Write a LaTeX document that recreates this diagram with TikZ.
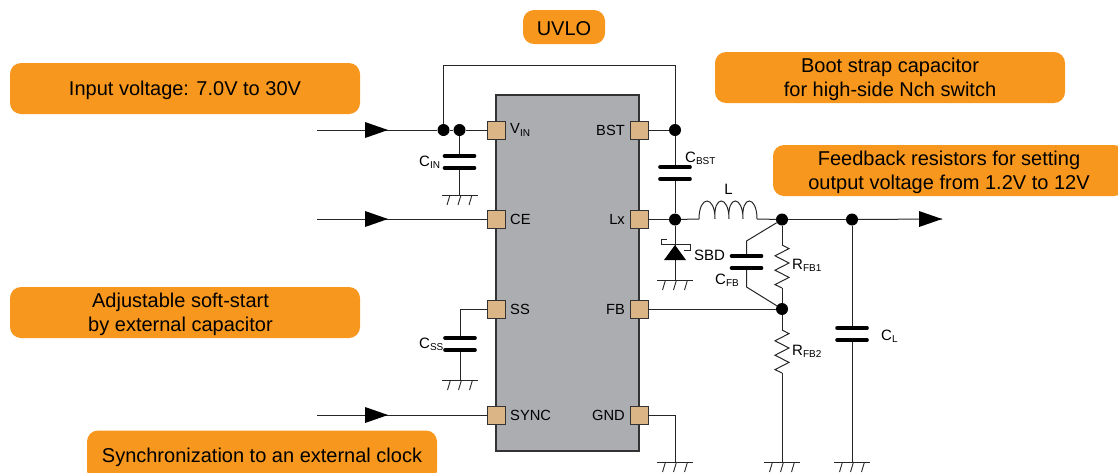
\documentclass[tikz,border=0pt]{standalone}
\usepackage{fontspec}
\setmainfont{Liberation Sans}
\usetikzlibrary{calc}
\definecolor{boxorange}{HTML}{F8971D}
\definecolor{chipgray}{HTML}{ABADB0}
\definecolor{pinfill}{HTML}{DBB585}
\definecolor{wiregray}{HTML}{333333}
\newcommand{\gndsym}[1]{%
  \draw[gndline] ($(#1)+(-18,0)$) -- ($(#1)+(18,0)$);
  \foreach \dx in {-11,0,11}{\draw[gndline] ($(#1)+(\dx+1.5,0)$) -- ($(#1)+(\dx-1.5,10)$);}
}
\newcommand{\plates}[1]{%
  \draw[plate] ($(#1)+(-15,-6)$) -- ($(#1)+(15,-6)$);
  \draw[plate] ($(#1)+(-15,6)$) -- ($(#1)+(15,6)$);
}
\newcommand{\tstrut}{\rule{0pt}{18pt}}
\tikzset{
  x=1pt,y=-1pt,
  callout/.style={fill=boxorange,rounded corners=11pt,minimum width=350pt,minimum height=51pt,align=center,font=\fontsize{20}{24}\selectfont,inner sep=0pt},
  pinbox/.style={draw=wiregray,fill=pinfill,line width=0.9pt,minimum size=18pt,inner sep=0pt},
  dotnode/.style={circle,fill=black,minimum size=12pt,inner sep=0pt},
  wire/.style={draw=black!85,line width=1pt},
  gndline/.style={draw=black!85,line width=0.9pt},
  plate/.style={draw=black,line width=3.6pt,line cap=round},
  pinlabel/.style={font=\fontsize{14.7}{16}\selectfont,inner sep=0pt},
  partlabel/.style={font=\fontsize{15}{16}\selectfont,inner sep=0pt},
  arrowhead/.style={fill=black,draw=none}
}
\newcommand{\sbs}[1]{\textsubscript{\fontsize{10}{11}\selectfont #1}}
\begin{document}
\begin{tikzpicture}
\useasboundingbox (0,0) rectangle (1118,472);
\clip (0,0) rectangle (1118,472);
% callouts
\node[callout,minimum width=82pt,minimum height=34pt] (uvlo) at (564,27) {\tstrut UVLO};
\node[callout] (inbox) at (185,88.5) {\tstrut Input voltage: 7.0V to 30V};
\node[callout] (bootbox) at (890,77.5) {\tstrut Boot strap capacitor\\for high-side Nch switch};
\node[callout,minimum width=352pt] (fbbox) at (949,170.5) {\tstrut Feedback resistors for setting\\output voltage from 1.2V to 12V};
\node[callout] (ssbox) at (185,312.5) {\tstrut Adjustable soft-start\hspace*{9pt}\\by external capacitor\hspace*{9pt}};
\node[callout] (syncbox) at (262,456) {\tstrut Synchronization to an external clock};
% chip
\node[draw=wiregray,fill=chipgray,line width=1.1pt,minimum width=143pt,minimum height=356pt,inner sep=0pt] (chip) at (567.5,273) {};
% coordinates
\coordinate (inL) at (317,130);
\coordinate (ceL) at (317,219);
\coordinate (syL) at (317,415);
\coordinate (outR) at (942,219);
\coordinate (topL) at (443.5,65);
\coordinate (topR) at (675,65);
\coordinate (cinC) at (459.5,162);
\coordinate (cinG) at (459.5,195);
\coordinate (cbstC) at (675,173);
\coordinate (sbdG) at (675,280);
\coordinate (lA) at (699,219);
\coordinate (lB) at (757,219);
\coordinate (cfbC) at (746.5,262);
\coordinate (cfbT) at (746.5,241);
\coordinate (cfbB) at (746.5,287);
\coordinate (r1T) at (782,245);
\coordinate (r1B) at (782,288);
\coordinate (r2T) at (782,330);
\coordinate (r2B) at (782,373);
\coordinate (r2G) at (782,462);
\coordinate (clC) at (852,334);
\coordinate (clG) at (852,462);
\coordinate (gndG) at (675,462);
\coordinate (gndC) at (675,415);
\coordinate (cssC) at (460,344);
\coordinate (cssT) at (460,309);
\coordinate (cssG) at (460,380);
% pins
\node[pinbox] (pvin) at (496,130) {};
\node[pinbox] (pce) at (496,219.5) {};
\node[pinbox] (pss) at (496,309) {};
\node[pinbox] (psync) at (496,415.5) {};
\node[pinbox] (pbst) at (639,130) {};
\node[pinbox] (plx) at (639,219.5) {};
\node[pinbox] (pfb) at (639,309) {};
\node[pinbox] (pgnd) at (639,415.5) {};
% junctions
\node[dotnode] (j1) at (443.5,130) {};
\node[dotnode] (j2) at (459.5,130) {};
\node[dotnode] (j3) at (675,130) {};
\node[dotnode] (j4) at (675,219.5) {};
\node[dotnode] (j5) at (782,219.5) {};
\node[dotnode] (j6) at (852,219.5) {};
\node[dotnode] (j7) at (782,309) {};
% wires
\draw[wire] (inL) -- (j1);
\draw[wire] (j1) -- (j2);
\draw[wire] (j2) -- (pvin);
\draw[wire] (ceL) -- (ceL -| pce.west);
\draw[wire] (syL) -- (syL -| psync.west);
\draw[wire] (j1) -- (topL) -- (topR) -- (j3);
\draw[wire] (pbst) -- (j3);
\draw[wire] (j3) -- (j4);
\draw[wire] (plx) -- (j4);
\draw[wire] (j4) -- (lA);
\draw[wire] (lB) -- (j5);
\draw[wire] (j5) -- (j6);
\draw[wire] (j6) -- (outR);
\draw[wire] (pfb) -- (j7);
\draw[wire] (j5) -- (r1T);
\draw[wire] (r1B) -- (j7);
\draw[wire] (j7) -- (r2T);
\draw[wire] (r2B) -- (r2G);
\draw[wire] (j5) -- (cfbT) -- (cfbC);
\draw[wire] (j7) -- (cfbB) -- (cfbC);
\draw[wire] (j6) -- (clG);
\draw[wire] (pgnd) -| (gndG);
\draw[wire] (pss) -- (cssT) -- (cssG);
\draw[wire] (j2) -- (cinG);
\draw[wire] (j4) -- (sbdG);
% white gaps in capacitors
\foreach \c in {cinC,cbstC,cfbC,clC,cssC}{\fill[white] ($(\c)+(-20,-5)$) rectangle ($(\c)+(20,5)$);}
\plates{cinC}
\plates{cbstC}
\plates{cfbC}
\plates{clC}
\plates{cssC}
% grounds
\gndsym{cinG}
\gndsym{sbdG}
\gndsym{cssG}
\gndsym{gndG}
\gndsym{r2G}
\gndsym{clG}
% arrowheads
\fill[arrowhead] (365,122) -- (388,130) -- (365,138) -- cycle;
\fill[arrowhead] (365,211) -- (388,219) -- (365,227) -- cycle;
\fill[arrowhead] (365,407) -- (388,415) -- (365,423) -- cycle;
\fill[arrowhead] (919,211) -- (942,219) -- (919,227) -- cycle;
% inductor
\draw[wire] (lA) .. controls (699,195) and (715,195) .. (715,219)
  .. controls (713,195) and (729,195) .. (729,219)
  .. controls (727,195) and (743,195) .. (743,219)
  .. controls (741,195) and (757,195) .. (757,219);
% resistors
\draw[wire] (r1T) -- ++(7,3.6) -- ++(-14,7.2) -- ++(14,7.2) -- ++(-14,7.2) -- ++(14,7.2) -- ++(-14,7.2) -- (r1B);
\draw[wire] (r2T) -- ++(7,3.6) -- ++(-14,7.2) -- ++(14,7.2) -- ++(-14,7.2) -- ++(14,7.2) -- ++(-14,7.2) -- (r2B);
% diode
\fill[black] (675,245) -- (686,260) -- (664,260) -- cycle;
\draw[wire] (667,239) -- (661,239) -- (661,244.5) -- (690,244.5) -- (690,250) -- (684,250);
% pin labels
\node[pinlabel,anchor=west] (lvin) at (510,130) {V\sbs{IN}};
\node[pinlabel,anchor=west] (lce) at (510,219.5) {CE};
\node[pinlabel,anchor=west] (lss) at (510,309) {SS};
\node[pinlabel,anchor=west] (lsync) at (510,415.5) {SYNC};
\node[pinlabel,anchor=east] (lbst) at (625,130) {BST};
\node[pinlabel,anchor=east] (llx) at (625,219.5) {Lx};
\node[pinlabel,anchor=east] (lfb) at (625,309) {FB};
\node[pinlabel,anchor=east] (lgnd) at (625,415.5) {GND};
% part labels
\node[partlabel,anchor=west] (tcin) at (419,162) {C\sbs{IN}};
\node[partlabel,anchor=west] (tcbst) at (685,158) {C\sbs{BST}};
\node[partlabel] (tl) at (728.5,189) {L};
\node[partlabel,anchor=west] (tsbd) at (694,255) {SBD};
\node[partlabel,anchor=west] (trfb1) at (792,265) {R\sbs{FB1}};
\node[partlabel,anchor=west] (tcfb) at (715,280) {C\sbs{FB}};
\node[partlabel,anchor=west] (trfb2) at (792,351) {R\sbs{FB2}};
\node[partlabel,anchor=west] (tcl) at (881,336) {C\sbs{L}};
\node[partlabel,anchor=west] (tcss) at (419,344) {C\sbs{SS}};
\end{tikzpicture}
\end{document}
